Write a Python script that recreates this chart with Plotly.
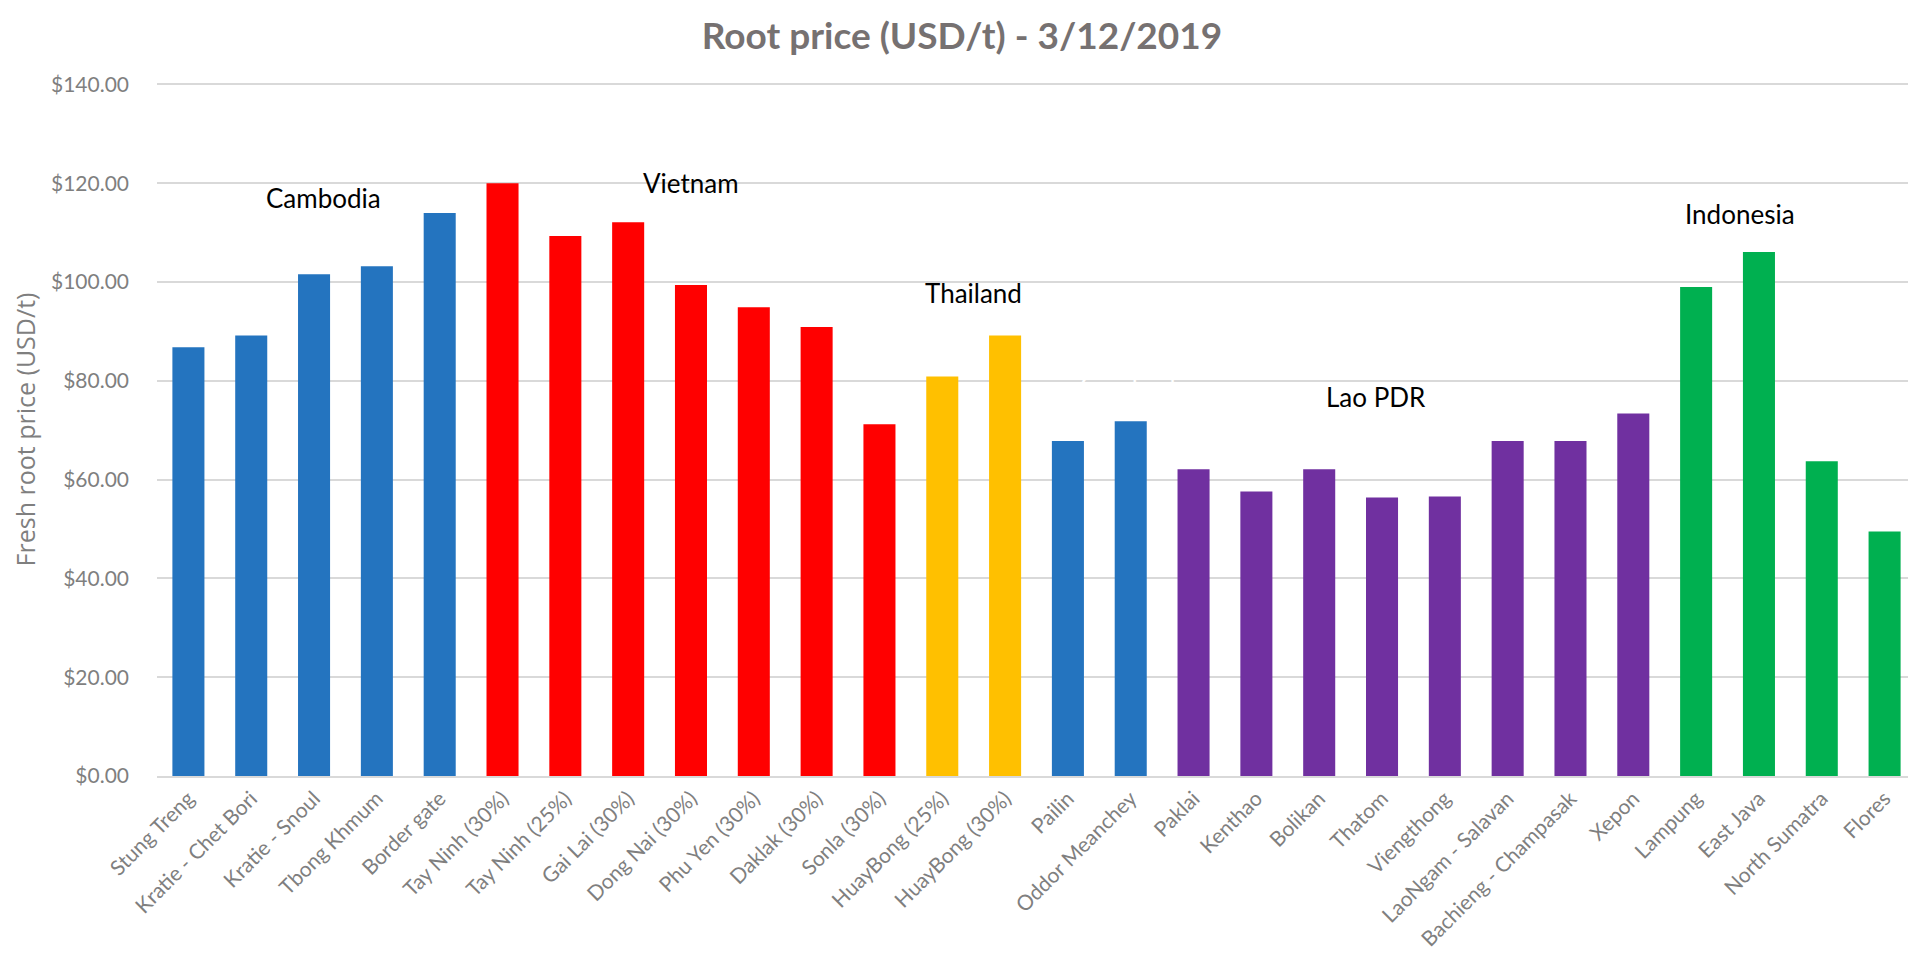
"""Root price bar chart by market, grouped by country."""

import plotly.graph_objects as go

# Markets along the x axis
markets = [
    "Stung Treng", "Kratie - Chet Bori", "Kratie - Snoul", "Tbong Khmum", "Border gate",
    "Tay Ninh (30%)", "Tay Ninh (25%)", "Gai Lai (30%)", "Dong Nai (30%)", "Phu Yen (30%)",
    "Daklak (30%)", "Sonla (30%)", "HuayBong (25%)", "HuayBong (30%)", "Pailin",
    "Oddor Meanchey", "Paklai", "Kenthao", "Bolikan", "Thatom", "Viengthong",
    "LaoNgam - Salavan", "Bachieng - Champasak", "Xepon", "Lampung", "East Java",
    "North Sumatra", "Flores",
]

# Fresh root price, USD/t
prices = [
    86.8, 89.2, 101.6, 103.2, 114.0,
    120.0, 109.3, 112.1, 99.4, 94.9,
    90.9, 71.2, 80.9, 89.2, 67.8,
    71.8, 62.1, 57.6, 62.1, 56.4, 56.6,
    67.8, 67.8, 73.4, 99.0, 106.1,
    63.7, 49.5,
]

countries = (
    ["Cambodia"] * 5 + ["Vietnam"] * 7 + ["Thailand"] * 2 + ["Cambodia"] * 2
    + ["Lao PDR"] * 8 + ["Indonesia"] * 4
)

country_colors = {
    "Cambodia": "#2474bf",
    "Vietnam": "#ff0000",
    "Thailand": "#ffc000",
    "Lao PDR": "#7030a0",
    "Indonesia": "#00b050",
}

# Country labels over the groups: text, category position, value, colour
label_texts = ["Cambodia", "Vietnam", "Thailand", "Cambodia", "Lao PDR", "Indonesia"]
label_x = [2.15, 8.0, 12.5, 15.1, 18.9, 24.7]
label_y = [117.0, 120.0, 97.7, 79.0, 76.7, 113.7]
label_colors = ["black", "black", "black", "white", "black", "black"]

y_ticks = [0, 20, 40, 60, 80, 100, 120, 140]

fig = go.Figure()

fig.add_trace(
    go.Bar(
        x=list(range(len(markets))),
        y=prices,
        marker={"color": [country_colors[c] for c in countries], "line": {"width": 0}},
        hovertemplate="%{customdata}<br>$%{y:.2f}<extra></extra>",
        customdata=markets,
        showlegend=False,
    )
)

for text, xpos, ypos, color in zip(label_texts, label_x, label_y, label_colors):
    fig.add_annotation(
        x=xpos,
        y=ypos,
        text=text,
        showarrow=False,
        font={"family": "Lato, Open Sans, sans-serif", "size": 26, "color": color},
    )

# The page body adds an 8px offset, so the figure is 8px smaller each way
fig.update_layout(
    width=1908,
    height=952,
    paper_bgcolor="white",
    plot_bgcolor="white",
    bargap=0.49,
    margin={"l": 149, "r": 0, "t": 75, "b": 184, "autoexpand": False},
    title={
        "text": "<b>Root price (USD/t) - 3/12/2019</b>",
        "x": 0.5,
        "xanchor": "center",
        "y": 0.971,
        "yanchor": "middle",
        "font": {"family": "Lato, Open Sans, sans-serif", "size": 37, "color": "#767171"},
    },
    xaxis={
        "tickmode": "array",
        "tickvals": list(range(len(markets))),
        "ticktext": markets,
        "tickangle": -45,
        "range": [-0.5, len(markets) - 0.5],
        "tickfont": {"family": "Lato, Open Sans, sans-serif", "size": 21, "color": "#7f7f7f"},
        "showgrid": False,
        "showline": True,
        "linecolor": "#d9d9d9",
        "linewidth": 2,
        "ticks": "",
        "automargin": False,
    },
    yaxis={
        "range": [0, 140.3],
        "tickmode": "array",
        "tickvals": y_ticks,
        "ticktext": [f"${v:.2f}" for v in y_ticks],
        "tickfont": {"family": "Lato, Open Sans, sans-serif", "size": 21, "color": "#7f7f7f"},
        "showgrid": True,
        "gridcolor": "#d9d9d9",
        "gridwidth": 1.5,
        "zeroline": False,
        "ticks": "",
        "ticklabelstandoff": 27,
        "automargin": False,
        "title": {
            "text": "Fresh root price (USD/t)",
            "font": {"family": "Open Sans, sans-serif", "size": 25, "color": "#7f7f7f"},
            "standoff": 8,
        },
    },
)

fig.write_html("out.html")
